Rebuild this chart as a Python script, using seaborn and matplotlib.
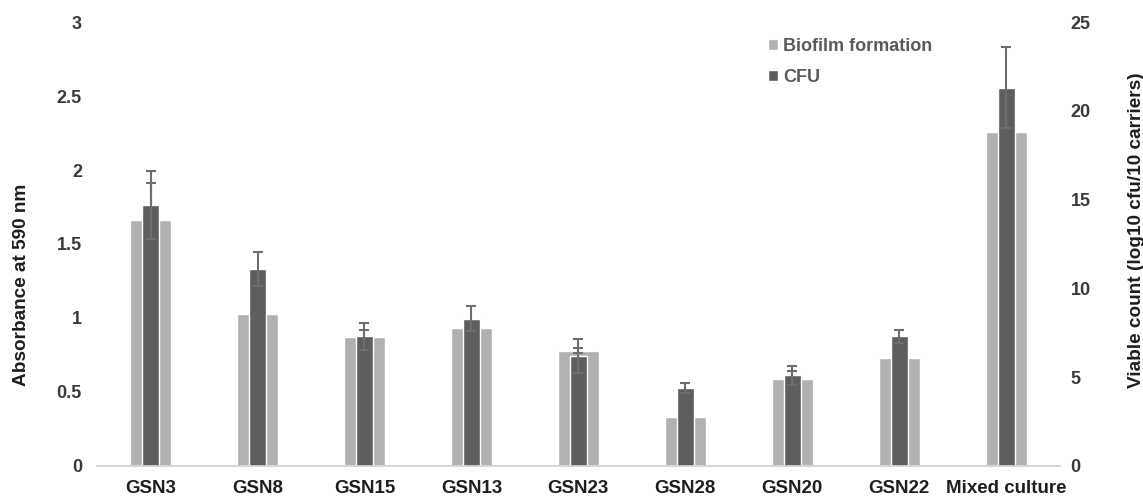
import matplotlib
matplotlib.use("Agg")
import matplotlib.pyplot as plt
import seaborn as sns
import pandas as pd

# Strains and measured values
strains = ["GSN3", "GSN8", "GSN15", "GSN13", "GSN23", "GSN28", "GSN20", "GSN22", "Mixed culture"]
biofilm = [1.66, 1.03, 0.87, 0.93, 0.78, 0.33, 0.59, 0.73, 2.26]
biofilm_err = [0.25, 0.10, 0.05, 0.05, 0.02, 0.05, 0.05, 0.05, 0.10]
cfu = [14.7, 11.1, 7.3, 8.3, 6.2, 4.4, 5.1, 7.3, 21.3]
cfu_err = [1.9, 0.95, 0.75, 0.7, 0.97, 0.28, 0.52, 0.37, 2.27]

left_ticks = [0, 0.5, 1, 1.5, 2, 2.5, 3]
left_ticklabels = ["0", "0.5", "1", "1.5", "2", "2.5", "3"]
right_ticks = [0, 5, 10, 15, 20, 25]
series_names = ["Biofilm formation", "CFU"]

LIGHT = "#b1b1b1"
DARK = "#5e5e5e"
ERR = "#6e6e6e"
TXT = "#3a3a3a"

sns.set_theme(style="white")
plt.rcParams["font.family"] = ["Liberation Sans", "DejaVu Sans"]
plt.rcParams["font.weight"] = "bold"

df = pd.DataFrame({"strain": strains, "biofilm": biofilm, "cfu": cfu})

fig = plt.figure(figsize=(11.43, 5.01), dpi=100)
ax = fig.add_axes([0.085, 0.070, 0.842, 0.886])
ax2 = ax.twinx()

sns.barplot(data=df, x="strain", y="biofilm", ax=ax, color=LIGHT,
            saturation=1, width=0.385)
ax.errorbar(range(len(strains)), biofilm, yerr=biofilm_err, fmt="none",
            ecolor=ERR, elinewidth=1.5, capsize=3.3, capthick=1.5)

sns.barplot(data=df, x="strain", y="cfu", ax=ax2, color=DARK,
            saturation=1, width=0.16)
ax2.errorbar(range(len(strains)), cfu, yerr=cfu_err, fmt="none",
             ecolor=ERR, elinewidth=1.5, capsize=3.3, capthick=1.5)

ax.set_xlim(-0.5, len(strains) - 0.5)
ax.set_ylim(0, 3)
ax2.set_ylim(0, 25)

ax.set_yticks(left_ticks)
ax.set_yticklabels(left_ticklabels)
ax2.set_yticks(right_ticks)

for a in (ax, ax2):
    for s in ("top", "left", "right"):
        a.spines[s].set_visible(False)
    a.spines["bottom"].set_color("#d6d6d6")
    a.spines["bottom"].set_linewidth(1.2)
    a.tick_params(length=0)
    a.set_xlabel("")
    a.grid(False)

ax.tick_params(axis="y", labelsize=13, labelcolor=TXT, pad=11)
ax2.tick_params(axis="y", labelsize=13, labelcolor=TXT, pad=8)
ax.tick_params(axis="x", labelsize=13.5, labelcolor="#1e1e1e", pad=10)
for lbl in ax.get_xticklabels() + ax.get_yticklabels() + ax2.get_yticklabels():
    lbl.set_fontweight("bold")

ax.set_ylabel("Absorbance at 590 nm", fontsize=13.7, fontweight="bold",
              color="#1e1e1e")
ax.yaxis.set_label_coords(-0.0696, 0.408)
ax2.set_ylabel("Viable count (log10 cfu/10 carriers)", fontsize=13.7,
               fontweight="bold", color="#1e1e1e")
ax2.yaxis.set_label_coords(1.0706, 0.53)

handles = [ax.containers[0].patches[0], ax2.containers[0].patches[0]]
leg = ax2.legend(handles, series_names, loc="upper left",
                 bbox_to_anchor=(0.69, 0.98), frameon=False,
                 handlelength=0.55, handleheight=0.55, handletextpad=0.25,
                 labelspacing=0.75, borderaxespad=0,
                 prop={"size": 13, "weight": "bold"})
for t in leg.get_texts():
    t.set_color("#5a5a5a")

fig.savefig("out.png", dpi=100)
